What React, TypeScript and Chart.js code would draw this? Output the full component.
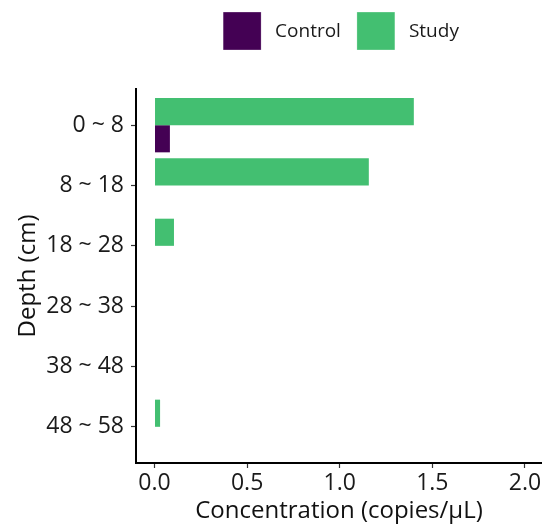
import React, { useEffect, useRef } from "react";
import { Chart, registerables } from "chart.js";

Chart.register(...registerables);

const depthLabels = ["0 ~ 8", "8 ~ 18", "18 ~ 28", "28 ~ 38", "38 ~ 48", "48 ~ 58"];
const controlValues = [0.083, 0, 0, 0, 0, 0];
const studyValues = [1.4, 1.157, 0.105, 0, 0, 0.03];
const xTickValues = [0, 0.5, 1.0, 1.5, 2.0];
const legendNames = ["Control", "Study"];
const legendColors = ["#440154", "#43BF71"];

const FONT = "'Open Sans', 'Noto Sans', sans-serif";

const legendPlugin = {
  id: "customLegend",
  afterDraw(chart: any) {
    const ctx = chart.ctx;
    const area = chart.chartArea;
    ctx.save();
    ctx.font = `19px ${FONT}`;
    const box = 38;
    const gapText = 14;
    const gapItem = 16;
    const widths = legendNames.map((n) => ctx.measureText(n).width);
    let total = 0;
    widths.forEach((w, i) => {
      total += box + gapText + w + (i < widths.length - 1 ? gapItem : 0);
    });
    let x = (area.left + area.right) / 2 + 2 - total / 2;
    const cy = 31;
    legendNames.forEach((n, i) => {
      ctx.fillStyle = legendColors[i];
      ctx.fillRect(x, cy - box / 2, box, box);
      ctx.strokeStyle = "rgba(255,255,255,0.6)";
      ctx.lineWidth = 0.5;
      ctx.strokeRect(x, cy - box / 2, box, box);
      ctx.fillStyle = "#1a1a1a";
      ctx.textBaseline = "middle";
      ctx.textAlign = "left";
      ctx.fillText(n, x + box + gapText, cy + 1);
      x += box + gapText + widths[i] + gapItem;
    });
    ctx.restore();
  },
};

export default function App() {
  const ref = useRef<HTMLCanvasElement | null>(null);

  useEffect(() => {
    if (!ref.current) return;
    const chart = new Chart(ref.current, {
      type: "bar",
      data: {
        datasets: [
          {
            label: "Study",
            data: studyValues.map((v, i) => ({ x: v, y: i })),
            backgroundColor: legendColors[1],
            borderWidth: 0,
          },
          {
            label: "Control",
            data: controlValues.map((v, i) => ({ x: v, y: i })),
            backgroundColor: legendColors[0],
            borderWidth: 0,
          },
        ],
      },
      options: {
        indexAxis: "y",
        animation: false,
        responsive: false,
        maintainAspectRatio: false,
        layout: { padding: { top: 89, right: 0, bottom: 0, left: 0 } },
        datasets: {
          bar: { categoryPercentage: 0.9, barPercentage: 1.0 },
        },
        plugins: {
          legend: { display: false },
          tooltip: { enabled: false },
        },
        scales: {
          x: {
            type: "linear",
            position: "bottom",
            offset: false,
            min: -0.1,
            max: 2.092,
            afterBuildTicks: (scale: any) => {
              scale.ticks = xTickValues.map((v) => ({ value: v }));
            },
            afterFit: (scale: any) => {
              scale.height = 64;
              scale.paddingLeft = 0;
              scale.paddingRight = 0;
            },
            grid: {
              offset: false,
              drawOnChartArea: false,
              drawTicks: true,
              tickLength: 5,
              tickWidth: 1.2,
              tickColor: "#333333",
            },
            border: { display: true, color: "#000000", width: 2 },
            ticks: {
              padding: 2,
              color: "#1a1a1a",
              font: { family: FONT, size: 23 },
              callback: (v: any) => Number(v).toFixed(1),
              maxRotation: 0,
              autoSkip: false,
            },
            title: {
              display: true,
              text: "Concentration (copies/μL)",
              color: "#111111",
              font: { family: FONT, size: 24 },
              padding: { top: 0, bottom: 1.5 },
            },
          },
          y: {
            type: "linear",
            position: "left",
            offset: false,
            reverse: true,
            min: -0.6,
            max: 5.6,
            afterBuildTicks: (scale: any) => {
              scale.ticks = depthLabels.map((_, i) => ({ value: i }));
            },
            afterFit: (scale: any) => {
              scale.width = 136;
              scale.paddingTop = 0;
              scale.paddingBottom = 0;
            },
            grid: {
              offset: false,
              drawOnChartArea: false,
              drawTicks: true,
              tickLength: 5,
              tickWidth: 1.2,
              tickColor: "#333333",
            },
            border: { display: true, color: "#000000", width: 2 },
            ticks: {
              padding: 7,
              color: "#1a1a1a",
              font: { family: FONT, size: 23 },
              callback: (v: any) => depthLabels[Number(v)] ?? "",
              autoSkip: false,
            },
            title: {
              display: true,
              text: "Depth (cm)",
              color: "#111111",
              font: { family: FONT, size: 24 },
              padding: { top: 13.5, bottom: 0 },
            },
          },
        },
      },
      plugins: [legendPlugin],
    });
    return () => chart.destroy();
  }, []);

  return (
    <div style={{ position: "fixed", left: 0, top: 0, width: 542, height: 527, background: "#ffffff" }}>
      <canvas ref={ref} width={542} height={527} style={{ display: "block", width: 542, height: 527 }} />
    </div>
  );
}
